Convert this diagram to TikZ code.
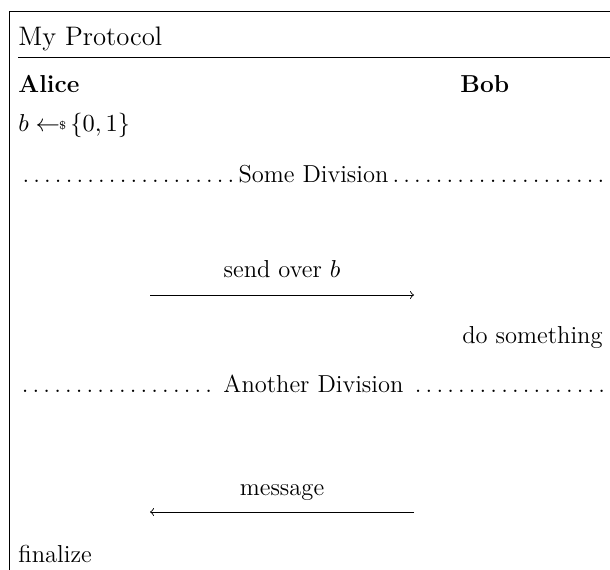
\documentclass[tikz,border=0pt]{standalone}
\usetikzlibrary{positioning}
\usepackage{amsmath}

\newcommand{\sample}{\leftarrow\!\!{\raisebox{.6pt}{$\scriptscriptstyle\$$}}\,}
\newcommand{\divwidth}{264.6pt}

\tikzset{
	txt/.style={anchor=base west,inner sep=0pt,font=\fontsize{11}{13.6}\selectfont},
	msg/.style={anchor=base,inner sep=0pt,font=\fontsize{11}{13.6}\selectfont},
	party/.style={anchor=base west,inner sep=0pt,font=\fontsize{11}{13.6}\selectfont\bfseries},
	heading/.style={anchor=base west,inner sep=0pt,font=\fontsize{12}{14.4}\selectfont},
}

\begin{document}
\begin{tikzpicture}[x=0.4484pt,y=-0.4484pt]
		\useasboundingbox (0,0) rectangle (610,570);

		% frame and title
		\coordinate (fbot) at (9,570);
		\coordinate (ftl) at (9,11);
		\coordinate (ftr) at (610,11);
		\draw (fbot) -- (ftl) -- (ftr);

		\node[heading] (title) at (18,45) {My Protocol};
		\coordinate (rulel) at (18,57);
		\coordinate (ruler) at (610,57);
		\draw (rulel) -- (ruler);

		\node[party] (alice) at (18,93) {Alice};
		\node[party] (bob) at (460,93) {Bob};

		\node[txt] (pick) at (18,131) {$b \sample \{0,1\}$};

		\node[txt] (divone) at (18,182) {\hbox to \divwidth{\dotfill Some Division\dotfill}};

		% first message
		\coordinate (sendl) at (150,295);
		\coordinate (sendr) at (414,295);
		\draw[->] (sendl) -- (sendr);
		\node[msg] (sendlbl) at (282,277) {send over $b$};

		\node[txt,anchor=base east] (dosth) at (603,343) {do something};

		\node[txt] (divtwo) at (18,392) {\hbox to \divwidth{\dotfill\ Another Division\ \dotfill}};

		% second message
		\coordinate (backr) at (414,512);
		\coordinate (backl) at (150,512);
		\draw[->] (backr) -- (backl);
		\node[msg] (backlbl) at (282,495) {message};

		\node[txt] (fin) at (18,562) {finalize};
	\end{tikzpicture}
\end{document}
